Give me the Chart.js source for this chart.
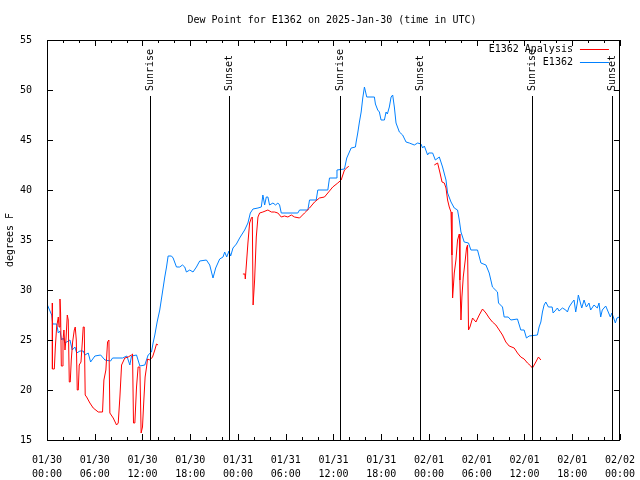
<!DOCTYPE html>
<html>
<head>
<meta charset="utf-8">
<script src="https://cdn.jsdelivr.net/npm/chart.js@4.4.0/dist/chart.umd.min.js"></script>
<style>
  body { margin: 0; background: #fff; }
  #wrap { width: 640px; height: 480px; }
</style>
</head>
<body>
<div id="wrap"><canvas id="myChart" width="640" height="480"></canvas></div>
<script>
'use strict';

let chartTitle = 'Dew Point for E1362 on 2025-Jan-30 (time in UTC)';
let yTitle = 'degrees F';

// x axis is hours since 01/30 00:00 UTC
let tickDates = ['01/30','01/30','01/30','01/30','01/31','01/31','01/31','01/31','02/01','02/01','02/01','02/01','02/02'];
let tickTimes = ['00:00','06:00','12:00','18:00','00:00','06:00','12:00','18:00','00:00','06:00','12:00','18:00','00:00'];

let sunHours = [12.92, 22.83, 36.88, 46.91, 60.96, 71.0];
let sunNames = ['Sunrise','Sunset','Sunrise','Sunset','Sunrise','Sunset'];

let seriesNames = ['E1362 Analysis', 'E1362'];
let seriesColors = ['#ff0000', '#0080ff'];

// E1362 Analysis (null = gap)
let analysisHours = [0.66,0.68,0.92,1.05,1.21,1.42,1.51,1.63,1.71,1.80,1.92,2.01,2.13,2.26,2.38,2.55,2.67,2.80,2.92,3.05,3.22,3.43,3.55,3.68,3.80,3.93,4.05,4.27,4.43,4.55,4.68,4.80,4.98,5.39,5.81,6.44,6.98,7.15,7.40,7.61,7.78,7.90,8.32,8.74,8.95,9.16,9.37,9.78,10.20,10.62,10.75,10.87,11.04,11.25,11.45,11.67,11.83,12.00,12.17,12.33,12.51,12.63,12.92,13.26,13.55,13.76,13.96,
  20,
  24.62,24.87,24.92,25.05,25.25,25.46,25.68,25.80,25.90,26.09,26.30,26.51,26.72,27.13,27.76,28.19,28.60,29.01,29.44,29.85,30.27,30.70,31.11,31.74,32.36,32.99,33.62,34.24,34.87,35.29,35.91,36.54,36.97,37.09,37.38,37.67,37.92,
  44,
  48.67,49.09,49.39,49.64,49.93,50.14,50.34,50.55,50.77,50.89,50.97,51.18,51.39,51.59,51.81,51.89,52.02,52.14,52.31,52.56,52.72,52.85,52.97,53.15,53.48,53.90,54.32,54.73,55.16,55.57,55.98,56.41,56.83,57.24,57.66,58.08,58.71,59.12,59.54,59.96,60.38,60.80,61.00,61.22,61.43,61.76,62.06];
let analysisValues = [28.7,22.1,22.1,24.3,26.3,27.3,26.3,29.1,27.7,22.4,22.4,25.0,26.0,24.0,25.0,27.5,27.0,20.8,20.8,23.0,24.8,26.0,26.3,25.0,20.0,20.0,22.5,22.8,24.7,26.3,26.3,19.5,19.3,18.7,18.2,17.8,17.8,21.0,22.0,24.8,25.0,17.7,17.2,16.5,16.7,19.3,22.5,23.2,23.3,23.5,23.6,16.7,16.7,20.3,22.3,22.3,15.7,16.3,19.0,21.3,22.3,23.1,23.0,23.3,24.0,24.6,24.5,
  null,
  31.6,31.6,31.1,32.5,34.7,36.7,37.2,37.3,28.5,31.0,35.3,37.3,37.7,37.8,38.0,37.8,37.8,37.7,37.3,37.4,37.3,37.5,37.3,37.2,37.7,38.2,38.8,39.2,39.3,39.7,40.3,40.7,41.0,41.3,42.0,42.2,42.4,
  null,
  42.5,42.7,41.7,40.8,40.7,40.2,39.0,38.3,37.8,33.5,29.2,31.7,33.0,35.0,35.6,31.0,27.0,29.3,31.3,33.0,34.2,34.5,26.0,26.3,27.2,26.8,27.5,28.1,27.7,27.2,26.8,26.5,26.0,25.5,24.8,24.4,24.2,23.7,23.3,23.1,22.7,22.4,22.2,22.5,22.8,23.3,23.0];

// E1362 observations
let obsHours = [0,0.16,0.59,0.72,1.22,1.42,1.63,1.84,2.04,2.26,2.67,2.89,3.17,3.51,3.73,4.14,4.55,4.77,5.18,5.48,6.02,6.74,7.28,7.99,8.24,9.50,10.04,10.41,10.62,11.25,11.67,12.29,12.71,13.13,13.33,13.55,13.84,14.17,14.59,14.80,15.02,15.22,15.64,15.85,16.27,16.68,17.02,17.31,17.52,17.94,18.35,18.78,19.19,20.03,20.45,20.86,21.20,21.70,22.12,22.33,22.58,22.87,23.08,23.37,23.80,24.21,24.84,25.25,25.55,25.88,26.51,26.93,27.13,27.35,27.56,27.76,27.97,28.39,28.73,29.01,29.23,29.44,31.52,31.74,32.78,32.99,33.83,34.03,35.29,35.50,36.34,36.44,37.38,37.67,38.22,38.76,38.85,39.05,39.26,39.48,39.68,39.89,40.18,41.14,41.27,41.56,41.77,41.98,42.40,42.61,42.77,43.02,43.24,43.44,43.65,43.86,44.28,44.69,45.12,45.53,46.16,46.58,47.00,47.20,47.42,47.83,47.96,48.46,48.80,49.30,49.71,50.14,50.34,50.77,51.18,51.59,51.81,52.02,52.43,52.97,53.27,54.10,54.53,55.16,55.57,55.98,56.61,56.74,57.24,57.45,57.96,58.29,59.12,59.54,59.96,60.25,60.59,61.63,61.84,62.06,62.26,62.47,62.68,63.01,63.48,63.60,63.94,64.14,64.35,64.77,65.19,65.40,65.61,65.94,66.23,66.44,66.64,66.77,66.94,67.20,67.49,67.78,68.11,68.32,68.74,69.15,69.37,69.58,69.78,70.21,70.53,70.79,70.99,71.21,71.42,71.62,71.92];
let obsValues = [28.6,28.3,27.5,26.6,26.6,25.7,25.9,25.0,25.2,24.7,24.9,25.0,24.0,24.3,23.7,23.9,23.9,23.5,23.7,22.8,23.4,23.5,23.0,22.9,23.2,23.2,23.4,22.5,23.4,23.5,22.4,22.5,23.5,23.8,24.7,25.5,26.8,28.0,30.2,31.3,32.3,33.4,33.4,33.2,32.3,32.3,32.5,32.3,31.8,32.0,31.8,32.3,32.9,33.0,32.5,31.2,32.2,33.1,33.3,33.8,33.3,33.9,33.4,34.2,34.6,35.2,36.0,36.7,37.7,38.1,38.2,38.3,39.5,38.5,39.3,39.3,38.5,38.7,38.5,38.7,38.5,37.7,37.7,38.0,38.0,39.0,39.0,40.0,40.0,41.2,41.2,42.0,42.1,43.2,44.2,44.3,44.8,45.7,46.8,47.8,49.2,50.3,49.3,49.3,48.6,48.0,47.8,47.0,47.0,47.8,47.6,48.3,49.3,49.5,48.3,46.7,45.8,45.5,44.8,44.7,44.5,44.7,44.6,44.2,44.4,43.5,43.7,43.7,43.0,43.3,42.3,41.0,39.7,38.8,38.2,38.0,37.0,35.8,34.8,34.7,34.0,34.0,32.7,32.5,31.7,30.3,29.8,28.7,28.3,27.3,27.3,27.0,27.1,26.0,26.0,25.2,25.4,25.5,26.3,26.8,27.8,28.5,28.8,28.3,28.3,27.7,28.0,28.2,27.9,28.2,28.0,27.8,28.3,28.7,29.0,27.8,28.7,29.5,29.0,28.2,29.0,28.3,28.7,28.0,28.5,28.2,28.7,27.3,28.0,28.4,27.8,27.3,27.7,27.2,26.7,27.2,27.3];

let monoFont = '10px "DejaVu Sans Mono", "Liberation Mono", monospace';

function toPoints(xs, ys) {
    let pts = [];
    for (let i = 0; i < xs.length; i++) {
        pts.push({x: xs[i], y: ys[i]});
    }
    return pts;
}

// gnuplot look: border, inward ticks, sun markers, title, legend
let gnuplotPlugin = {
    id: 'gnuplotPlugin',
    afterDraw(chart) {
        let ctx = chart.ctx;
        let a = chart.chartArea;
        let xs = chart.scales.x;
        let ys = chart.scales.y;
        ctx.save();
        ctx.strokeStyle = '#000';
        ctx.lineWidth = 1;
        ctx.strokeRect(Math.round(a.left) + 0.5, Math.round(a.top) + 0.5, Math.round(a.right - a.left) - 1, Math.round(a.bottom - a.top));

        ctx.beginPath();
        for (let h = 0; h <= 72; h += 2) {
            let x = Math.round(xs.getPixelForValue(h)) + 0.5;
            let len = (h % 6 === 0) ? 6 : 3;
            ctx.moveTo(x, a.bottom); ctx.lineTo(x, a.bottom - len);
            ctx.moveTo(x, a.top); ctx.lineTo(x, a.top + len);
        }
        for (let v = 15; v <= 55; v += 5) {
            let y = Math.round(ys.getPixelForValue(v)) + 0.5;
            ctx.moveTo(a.left, y); ctx.lineTo(a.left + 6, y);
            ctx.moveTo(a.right, y); ctx.lineTo(a.right - 6, y);
        }
        ctx.stroke();

        // sunrise / sunset markers
        ctx.font = monoFont;
        ctx.fillStyle = '#000';
        for (let i = 0; i < sunHours.length; i++) {
            let x = Math.round(xs.getPixelForValue(sunHours[i])) + 0.5;
            ctx.beginPath();
            ctx.moveTo(x, a.top + 56);
            ctx.lineTo(x, a.bottom);
            ctx.stroke();
            ctx.save();
            ctx.translate(x, a.top + 51);
            ctx.rotate(-Math.PI / 2);
            ctx.textAlign = 'left';
            ctx.textBaseline = 'middle';
            ctx.fillText(sunNames[i], 0, 0);
            ctx.restore();
        }

        // title
        ctx.textAlign = 'center';
        ctx.textBaseline = 'middle';
        ctx.fillText(chartTitle, 332, 20);

        // y axis title
        ctx.save();
        ctx.translate(10, (a.top + a.bottom) / 2);
        ctx.rotate(-Math.PI / 2);
        ctx.fillText(yTitle, 0, 0);
        ctx.restore();

        // legend
        for (let i = 0; i < seriesNames.length; i++) {
            let y = a.top + 9 + i * 13;
            ctx.textAlign = 'right';
            ctx.fillStyle = '#000';
            ctx.fillText(seriesNames[i], a.right - 47, y);
            ctx.strokeStyle = seriesColors[i];
            ctx.beginPath();
            ctx.moveTo(a.right - 40, Math.round(y) + 0.5);
            ctx.lineTo(a.right - 11, Math.round(y) + 0.5);
            ctx.stroke();
        }
        ctx.restore();
    }
};

let ctx = document.getElementById('myChart').getContext('2d');
let myChart = new Chart(ctx, {
    type: 'line',
    data: {
        datasets: [{
            label: seriesNames[0],
            data: toPoints(analysisHours, analysisValues),
            borderColor: seriesColors[0],
            borderWidth: 1,
            pointRadius: 0,
            tension: 0,
            spanGaps: false
        }, {
            label: seriesNames[1],
            data: toPoints(obsHours, obsValues),
            borderColor: seriesColors[1],
            borderWidth: 1,
            pointRadius: 0,
            tension: 0
        }]
    },
    options: {
        responsive: false,
        animation: false,
        layout: { padding: { left: 0, right: 19, top: 40, bottom: 0 } },
        plugins: {
            legend: { display: false },
            title: { display: false },
            tooltip: { enabled: false }
        },
        scales: {
            x: {
                type: 'linear',
                min: 0,
                max: 72,
                grid: { display: false },
                border: { display: false },
                afterFit(scale) { scale.height = 40; },
                ticks: {
                    stepSize: 2,
                    autoSkip: false,
                    maxRotation: 0,
                    padding: 5,
                    color: '#000',
                    font: { family: '"DejaVu Sans Mono", monospace', size: 10, lineHeight: 1.4 },
                    callback: function (v) {
                        if (v % 6 !== 0) return '';
                        let k = v / 6;
                        return [tickDates[k], tickTimes[k]];
                    }
                }
            },
            y: {
                min: 15,
                max: 55,
                grid: { display: false },
                border: { display: false },
                afterFit(scale) { scale.width = 47; },
                ticks: {
                    stepSize: 5,
                    padding: 7,
                    color: '#000',
                    font: { family: '"DejaVu Sans Mono", monospace', size: 10 }
                }
            }
        }
    },
    plugins: [gnuplotPlugin]
});
</script>
</body>
</html>
